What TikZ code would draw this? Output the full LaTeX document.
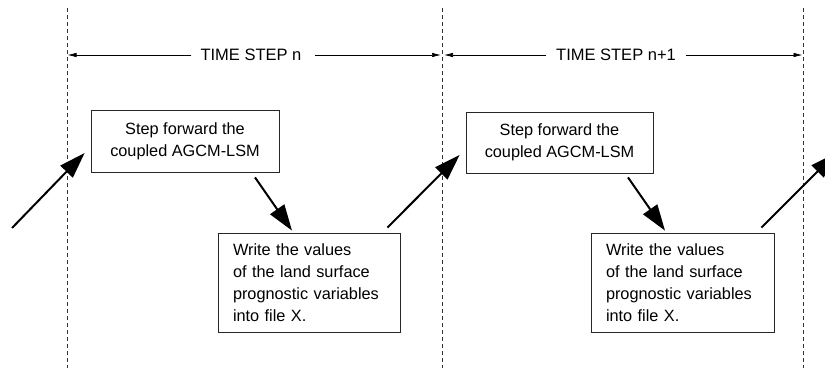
\documentclass[tikz,border=0pt]{standalone}
\usepackage{fontspec}
\setmainfont{Liberation Sans}
\usetikzlibrary{arrows.meta}
\begin{document}
\begin{tikzpicture}[x=1pt,y=-1pt,
  stepbox/.style={draw=black!85,line width=0.8pt,fill=white,font=\fontsize{16.3}{22}\selectfont},
  flowarrow/.style={line width=2pt,-{Triangle[length=26pt,width=17pt]}},
  dimarrow/.style={line width=0.7pt,-{Latex[length=9pt,width=4.5pt]}},
  divider/.style={line width=0.7pt,dash pattern=on 4pt off 3pt,black!80},
  steplabel/.style={font=\fontsize{16.5}{20}\selectfont,inner xsep=9pt}]
\useasboundingbox (0,0) rectangle (825,370);
\clip (0,0) rectangle (825,370);
\fill[white] (0,0) rectangle (825,370);
% dividers
\coordinate (d1t) at (67,8);   \coordinate (d1b) at (67,368);
\coordinate (d2t) at (442.5,8); \coordinate (d2b) at (442.5,368);
\coordinate (d3t) at (803,8);  \coordinate (d3b) at (803,368);
\draw[divider] (d1t) -- (d1b);
\draw[divider] (d2t) -- (d2b);
\draw[divider] (d3t) -- (d3b);
% time step labels
\node[steplabel] (ts1) at (251,55) {TIME STEP n};
\node[steplabel,inner xsep=10pt] (ts2) at (616,55) {TIME STEP n+1};
\coordinate (a1l) at (67.5,55); \coordinate (a1r) at (441,55);
\coordinate (a2l) at (444,55); \coordinate (a2r) at (802.5,55);
\draw[dimarrow] (ts1.west) -- (a1l);
\draw[dimarrow] ([xshift=4pt]ts1.east) -- (a1r);
\draw[dimarrow] (ts2.west) -- (a2l);
\draw[dimarrow] (ts2.east) -- (a2r);
% boxes
\node[stepbox,minimum width=188pt,minimum height=62pt,align=center] (b1) at (185,141)
  {Step forward the\\coupled AGCM-LSM};
\node[stepbox,minimum width=182pt,minimum height=99pt,text width=152pt,inner xsep=15pt,align=left] (b2) at (309,282.5)
  {Write the values\\of the land surface\\prognostic variables\\into file X.};
\node[stepbox,minimum width=187pt,minimum height=61pt,align=center] (b3) at (559.5,142.5)
  {Step forward the\\coupled AGCM-LSM};
\node[stepbox,minimum width=183pt,minimum height=99pt,text width=153pt,inner xsep=15pt,align=left] (b4) at (682.5,282.5)
  {Write the values\\of the land surface\\prognostic variables\\into file X.};
% flow arrows
\coordinate (start) at (12,228);
\coordinate (next) at (836,153);
\draw[flowarrow] (start) -- ([shift={(-6,12)}]b1.west);
\draw[flowarrow] ([shift={(70,5)}]b1.south) -- ([shift={(-17,-2)}]b2.north);
\draw[flowarrow] ([shift={(-13,-5)}]b2.north east) -- ([shift={(-6,12.5)}]b3.west);
\draw[flowarrow] ([shift={(68.5,4)}]b3.south) -- ([shift={(-17.5,-2)}]b4.north);
\draw[flowarrow] ([shift={(-13,-5)}]b4.north east) -- (next);
\end{tikzpicture}
\end{document}
